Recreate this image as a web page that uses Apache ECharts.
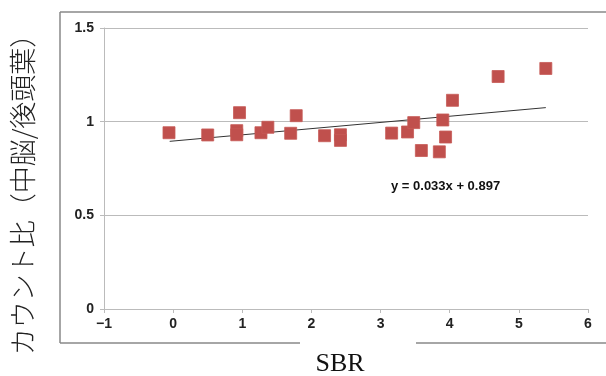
<!DOCTYPE html>
<html>
<head>
<meta charset="utf-8">
<script src="https://cdn.jsdelivr.net/npm/echarts@6/dist/echarts.min.js"></script>
<style>
  html, body { margin: 0; padding: 0; background: #fff; }
  #chart { width: 606px; height: 376px; }
</style>
</head>
<body>
<div id="chart"></div>
<script>
// SBR vs count ratio (midbrain / occipital lobe)
const sbrValues = [-0.06, 0.50, 0.92, 0.92, 0.96, 1.27, 1.37, 1.70, 1.78, 2.19, 2.42, 2.42,
  3.16, 3.39, 3.48, 3.59, 3.85, 3.90, 3.94, 4.04, 4.70, 5.39];
const ratioValues = [0.941, 0.929, 0.952, 0.930, 1.048, 0.941, 0.970, 0.938, 1.032, 0.925, 0.930, 0.900,
  0.939, 0.945, 0.995, 0.846, 0.839, 1.009, 0.918, 1.114, 1.241, 1.284];

// linear trend line end points (y = 0.033x + 0.897)
const trendX = [-0.05, 5.39];
const trendY = [0.895, 1.075];

const xTicks = [-1, 0, 1, 2, 3, 4, 5, 6];
const yTicks = [0, 0.5, 1, 1.5];
const equationText = "y = 0.033x + 0.897";
const xTitle = "SBR";
const yTitle = "カウント比（中脳/後頭葉）";

const chart = echarts.init(document.getElementById("chart"));

const axisLabelStyle = {
  fontFamily: "Liberation Sans",
  fontWeight: "bold",
  fontSize: 14,
  color: "#222",
};

const option = {
  animation: false,
  grid: { left: 104, right: 18, top: 28, bottom: 67, containLabel: false },
  xAxis: {
    type: "value",
    min: xTicks[0],
    max: xTicks[xTicks.length - 1],
    interval: 1,
    axisLine: { show: true, onZero: false, lineStyle: { color: "#bbb", width: 1 } },
    axisTick: { show: true, length: 4, lineStyle: { color: "#bbb" } },
    splitLine: { show: false },
    axisLabel: {
      ...axisLabelStyle,
      margin: 8,
      formatter: (v) => (v < 0 ? "\u2212" + Math.abs(v) : String(v)),
    },
  },
  yAxis: {
    type: "value",
    min: yTicks[0],
    max: yTicks[yTicks.length - 1],
    interval: 0.5,
    axisLine: { show: true, onZero: false, lineStyle: { color: "#bbb", width: 1 } },
    axisTick: { show: true, length: 4, lineStyle: { color: "#bbb" } },
    splitLine: { show: true, lineStyle: { color: "#bbb", width: 1 } },
    axisLabel: { ...axisLabelStyle, margin: 10 },
  },
  series: [
    {
      type: "line",
      data: trendX.map((x, i) => [x, trendY[i]]),
      symbol: "none",
      lineStyle: { color: "#333", width: 1 },
      z: 3,
    },
    {
      type: "scatter",
      data: sbrValues.map((x, i) => [x, ratioValues[i]]),
      symbol: "rect",
      symbolSize: 12,
      itemStyle: { color: "#c0504d", opacity: 1, borderColor: "#c65a57", borderWidth: 0.8 },
      z: 4,
    },
  ],
  graphic: [
    // outer frame, with a gap in the bottom edge for the x title
    { type: "line", shape: { x1: 60, y1: 12, x2: 606, y2: 12 }, style: { stroke: "#888", lineWidth: 1.5 } },
    { type: "line", shape: { x1: 60, y1: 12, x2: 60, y2: 343 }, style: { stroke: "#888", lineWidth: 1.5 } },
    { type: "line", shape: { x1: 60, y1: 343, x2: 300, y2: 343 }, style: { stroke: "#888", lineWidth: 1.5 } },
    { type: "line", shape: { x1: 416, y1: 343, x2: 606, y2: 343 }, style: { stroke: "#888", lineWidth: 1.5 } },
    {
      type: "text",
      x: 391,
      y: 186,
      style: {
        text: equationText,
        fontFamily: "Liberation Sans",
        fontWeight: "bold",
        fontSize: 13,
        fill: "#111",
        verticalAlign: "middle",
      },
    },
    {
      type: "text",
      x: 340,
      y: 377,
      style: {
        text: xTitle,
        fontFamily: "Liberation Serif",
        fontSize: 26,
        fill: "#111",
        align: "center",
        verticalAlign: "bottom",
      },
    },
    {
      type: "text",
      x: 23,
      y: 188,
      rotation: Math.PI / 2,
      style: {
        text: yTitle,
        fontFamily: "Noto Sans CJK JP",
        fontWeight: 300,
        fontSize: 27,
        fill: "#222",
        align: "center",
        verticalAlign: "middle",
      },
    },
  ],
};

chart.setOption(option);
</script>
</body>
</html>
